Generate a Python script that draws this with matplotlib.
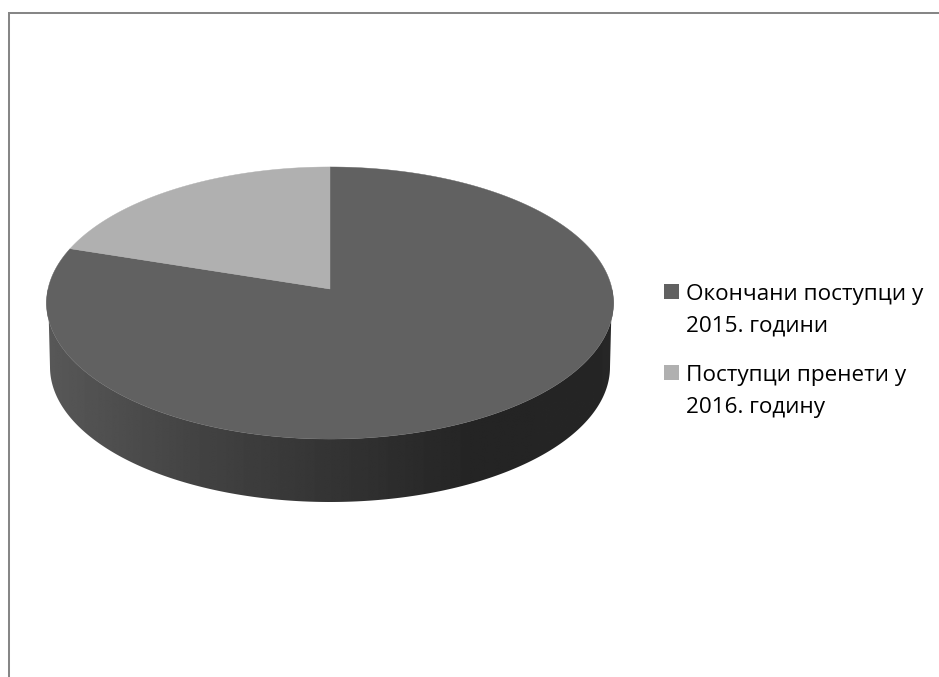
import numpy as np
from matplotlib import pyplot as plt
from matplotlib.patches import Polygon, Rectangle

categories = ['Окончани поступци у\n2015. години', 'Поступци пренети у\n2016. годину']
shares = [80, 20]
colors = ['#616161', '#b0b0b0']

# pie geometry in pixels, the top face is a circle seen in perspective
cx, apexY = 330, 289
a, b, k = 282, 134.6, 0.103


def rim(start, stop, n=200):
	# angles are clockwise from the top of the circle, in degrees
	t = np.radians(np.linspace(start, stop, n))
	u, v = np.sin(t), -np.cos(t)
	d = 1 - k*v
	return cx + a*u/d, apexY + b*v/d


fig = plt.figure(figsize=(9.39, 6.77), dpi=100)
ax = fig.add_axes([0, 0, 1, 1])
ax.axis('off')

# chart border, only left and top are in the picture
ax.plot([9, 9, 939], [677, 12.5, 12.5], color='#868686', lw=1.45, solid_joinstyle='miter')

# side wall with horizontal gradient
t = np.linspace(0, np.pi, 300)
xTop, yTop = rim(90, 270, 300)
xBottom = cx + 280*np.cos(t)
yBottom = 367 + 135*np.sin(t)
wallPts = np.concatenate([np.column_stack([xTop, yTop]), np.column_stack([xBottom[::-1], yBottom[::-1]])])
wall = Polygon(wallPts, closed=True, transform=ax.transData, fc='none', ec='none')
ax.add_patch(wall)
gradient = np.interp(np.linspace(0, 1, 400), [0, 0.25, 0.5, 0.76, 1], [0x58, 0x44, 0x34, 0x24, 0x26]) / 255
image = ax.imshow(gradient[None, :], extent=(46, 614, 510, 290), cmap='gray', vmin=0, vmax=1,
	aspect='auto', interpolation='bilinear', zorder=2)
image.set_clip_path(wall)

# top face, slices go clockwise from twelve o'clock
angle = 0
for share, color in zip(shares, colors):
	stop = angle + 360*share/sum(shares)
	x, y = rim(angle, stop)
	ax.fill(np.r_[cx, x], np.r_[apexY, y], color=color, lw=0.3, zorder=3)
	angle = stop

# legend
for i, (label, color) in enumerate(zip(categories, colors)):
	top = 284 + i*81
	ax.add_patch(Rectangle((664, top), 15, 15, fc=color, ec='none'))
	ax.text(686, top + 48, label, family='Open Sans', fontsize=16.2, va='baseline', ha='left',
		color='black', linespacing=1.66)

ax.set_xlim(0, 939)
ax.set_ylim(677, 0)
fig.savefig('out.png', dpi=100)
